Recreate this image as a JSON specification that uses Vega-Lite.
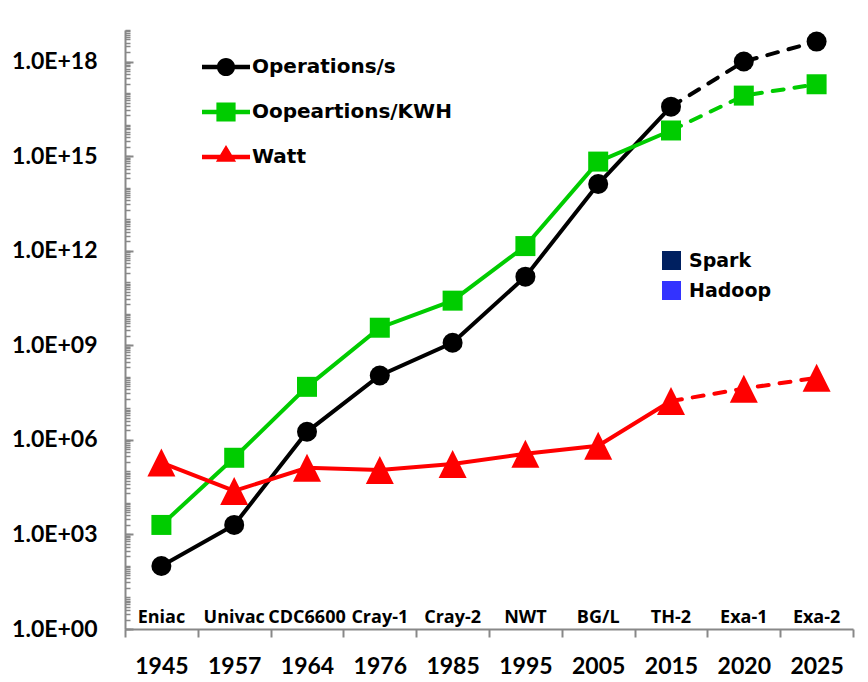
{
  "$schema": "https://vega.github.io/schema/vega-lite/v6.json",
  "width": 728,
  "height": 599,
  "autosize": {"type": "none"},
  "padding": {"left": 125, "top": 30, "right": 15, "bottom": 53},
  "background": "white",
  "config": {"view": {"stroke": null}},
  "datasets": {
    "perf": [
      {"year": 1945, "series": "Operations/s", "value": 1e2},
      {"year": 1957, "series": "Operations/s", "value": 2e3},
      {"year": 1964, "series": "Operations/s", "value": 1.8e6},
      {"year": 1976, "series": "Operations/s", "value": 1.1e8},
      {"year": 1985, "series": "Operations/s", "value": 1.2e9},
      {"year": 1995, "series": "Operations/s", "value": 1.5e11},
      {"year": 2005, "series": "Operations/s", "value": 1.3e14},
      {"year": 2015, "series": "Operations/s", "value": 3.7e16},
      {"year": 2020, "series": "Operations/s", "value": 1e18},
      {"year": 2025, "series": "Operations/s", "value": 4.3e18},
      {"year": 1945, "series": "Oopeartions/KWH", "value": 2e3},
      {"year": 1957, "series": "Oopeartions/KWH", "value": 2.7e5},
      {"year": 1964, "series": "Oopeartions/KWH", "value": 4.8e7},
      {"year": 1976, "series": "Oopeartions/KWH", "value": 3.6e9},
      {"year": 1985, "series": "Oopeartions/KWH", "value": 2.6e10},
      {"year": 1995, "series": "Oopeartions/KWH", "value": 1.4e12},
      {"year": 2005, "series": "Oopeartions/KWH", "value": 6.7e14},
      {"year": 2015, "series": "Oopeartions/KWH", "value": 6.5e15},
      {"year": 2020, "series": "Oopeartions/KWH", "value": 8.3e16},
      {"year": 2025, "series": "Oopeartions/KWH", "value": 1.9e17},
      {"year": 1945, "series": "Watt", "value": 1.9e5},
      {"year": 1957, "series": "Watt", "value": 2.4e4},
      {"year": 1964, "series": "Watt", "value": 1.3e5},
      {"year": 1976, "series": "Watt", "value": 1.1e5},
      {"year": 1985, "series": "Watt", "value": 1.7e5},
      {"year": 1995, "series": "Watt", "value": 3.6e5},
      {"year": 2005, "series": "Watt", "value": 6.5e5},
      {"year": 2015, "series": "Watt", "value": 1.7e7},
      {"year": 2020, "series": "Watt", "value": 4.2e7},
      {"year": 2025, "series": "Watt", "value": 9.3e7}
    ],
    "machines": [
      {"year": 1945, "name": "Eniac"},
      {"year": 1957, "name": "Univac"},
      {"year": 1964, "name": "CDC6600"},
      {"year": 1976, "name": "Cray-1"},
      {"year": 1985, "name": "Cray-2"},
      {"year": 1995, "name": "NWT"},
      {"year": 2005, "name": "BG/L"},
      {"year": 2015, "name": "TH-2"},
      {"year": 2020, "name": "Exa-1"},
      {"year": 2025, "name": "Exa-2"}
    ],
    "tech": [
      {"year": 2005, "tech": "Spark", "value": null},
      {"year": 2005, "tech": "Hadoop", "value": null}
    ]
  },
  "resolve": {"axis": {"y": "independent"}},
  "layer": [
    {
      "data": {"name": "perf"},
      "transform": [{"filter": "datum.year <= 2015"}],
      "mark": {"type": "line", "strokeWidth": 4},
      "encoding": {
        "x": {
          "field": "year", "type": "ordinal",
          "scale": {"type": "band", "paddingInner": 0, "paddingOuter": 0},
          "axis": {
            "title": null, "labelAngle": 0, "tickBand": "extent",
            "tickSize": 8, "tickWidth": 2, "tickColor": "#888888",
            "domainColor": "#888888", "domainWidth": 2,
            "labelFont": "Lato", "labelFontWeight": "bold", "labelFontSize": 23,
            "labelColor": "black", "labelPadding": 18
          }
        },
        "y": {
          "field": "value", "type": "quantitative",
          "scale": {"type": "log", "domain": [1, 1e19], "nice": false},
          "axis": {
            "values": [1, 1e3, 1e6, 1e9, 1e12, 1e15, 1e18],
            "labelExpr": "'1.0E+' + (round(log(datum.value)/LN10) < 10 ? '0' : '') + round(log(datum.value)/LN10)",
            "title": null, "grid": false,
            "tickSize": -8, "tickWidth": 2, "tickColor": "#888888",
            "domainColor": "#888888", "domainWidth": 2,
            "labelFont": "Lato", "labelFontWeight": "bold", "labelFontSize": 23,
            "labelColor": "black", "labelPadding": 36, "labelFlush": false
          }
        },
        "color": {
          "field": "series", "type": "nominal",
          "scale": {"domain": ["Operations/s", "Oopeartions/KWH", "Watt"], "range": ["#000000", "#00CC00", "#FF0000"]}
        }
      }
    },
    {
      "data": {"name": "perf"},
      "transform": [{"filter": "datum.year >= 2015"}],
      "mark": {"type": "line", "strokeWidth": 4, "strokeDash": [11, 11], "strokeCap": "round"},
      "encoding": {
        "x": {"field": "year", "type": "ordinal", "scale": {"type": "band", "paddingInner": 0, "paddingOuter": 0}},
        "y": {
          "field": "value", "type": "quantitative",
          "axis": {
            "orient": "left",
            "values": [1e0,2e0,3e0,4e0,5e0,6e0,7e0,8e0,9e0,1e1,2e1,3e1,4e1,5e1,6e1,7e1,8e1,9e1,1e2,2e2,3e2,4e2,5e2,6e2,7e2,8e2,9e2,1e3,2e3,3e3,4e3,5e3,6e3,7e3,8e3,9e3,1e4,2e4,3e4,4e4,5e4,6e4,7e4,8e4,9e4,1e5,2e5,3e5,4e5,5e5,6e5,7e5,8e5,9e5,1e6,2e6,3e6,4e6,5e6,6e6,7e6,8e6,9e6,1e7,2e7,3e7,4e7,5e7,6e7,7e7,8e7,9e7,1e8,2e8,3e8,4e8,5e8,6e8,7e8,8e8,9e8,1e9,2e9,3e9,4e9,5e9,6e9,7e9,8e9,9e9,1e10,2e10,3e10,4e10,5e10,6e10,7e10,8e10,9e10,1e11,2e11,3e11,4e11,5e11,6e11,7e11,8e11,9e11,1e12,2e12,3e12,4e12,5e12,6e12,7e12,8e12,9e12,1e13,2e13,3e13,4e13,5e13,6e13,7e13,8e13,9e13,1e14,2e14,3e14,4e14,5e14,6e14,7e14,8e14,9e14,1e15,2e15,3e15,4e15,5e15,6e15,7e15,8e15,9e15,1e16,2e16,3e16,4e16,5e16,6e16,7e16,8e16,9e16,1e17,2e17,3e17,4e17,5e17,6e17,7e17,8e17,9e17,1e18,2e18,3e18,4e18,5e18,6e18,7e18,8e18,9e18,1e19],
            "labels": false, "domain": false, "grid": false, "title": null,
            "tickSize": -5, "tickWidth": 1.5, "tickColor": "#888888"
          }
        },
        "color": {"field": "series", "type": "nominal"}
      }
    },
    {
      "data": {"name": "perf"},
      "transform": [{"filter": "datum.series === 'Operations/s'"}],
      "mark": {"type": "point", "filled": true, "opacity": 1, "strokeWidth": 0, "shape": "circle", "size": 400},
      "encoding": {
        "x": {"field": "year", "type": "ordinal", "scale": {"type": "band", "paddingInner": 0, "paddingOuter": 0}},
        "y": {"field": "value", "type": "quantitative", "axis": null},
        "color": {"field": "series", "type": "nominal"}
      }
    },
    {
      "data": {"name": "perf"},
      "transform": [{"filter": "datum.series === 'Oopeartions/KWH'"}],
      "mark": {"type": "point", "filled": true, "opacity": 1, "strokeWidth": 0, "shape": "square", "size": 400},
      "encoding": {
        "x": {"field": "year", "type": "ordinal", "scale": {"type": "band", "paddingInner": 0, "paddingOuter": 0}},
        "y": {"field": "value", "type": "quantitative", "axis": null},
        "color": {"field": "series", "type": "nominal"}
      }
    },
    {
      "data": {"name": "perf"},
      "transform": [{"filter": "datum.series === 'Watt'"}],
      "mark": {"type": "point", "filled": true, "opacity": 1, "strokeWidth": 0, "shape": "M0,-1L1,1H-1Z", "size": 784},
      "encoding": {
        "x": {"field": "year", "type": "ordinal", "scale": {"type": "band", "paddingInner": 0, "paddingOuter": 0}},
        "y": {"field": "value", "type": "quantitative", "axis": null},
        "color": {"field": "series", "type": "nominal"}
      }
    },
    {
      "data": {"name": "perf"},
      "mark": {"type": "point", "filled": true, "opacity": 1, "strokeWidth": 0, "size": 0},
      "encoding": {
        "x": {"field": "year", "type": "ordinal", "scale": {"type": "band", "paddingInner": 0, "paddingOuter": 0}},
        "y": {"field": "value", "type": "quantitative", "axis": null},
        "color": {
          "field": "series", "type": "nominal",
          "legend": {
            "orient": "none", "legendX": 77, "legendY": 13, "title": null,
            "padding": 0, "rowPadding": 11,
            "symbolSize": 2304, "symbolStrokeWidth": 0, "symbolOpacity": 1,
            "labelFont": "DejaVu Sans", "labelFontWeight": "bold", "labelFontSize": 20,
            "labelColor": "black", "labelOffset": 2, "labelLimit": 400
          }
        },
        "shape": {
          "field": "series", "type": "nominal",
          "scale": {
            "domain": ["Operations/s", "Oopeartions/KWH", "Watt"],
            "range": [
              "M-1,-0.09H1V0.09H-1Z M0.38,0A0.38,0.38 0 1,1 -0.38,0A0.38,0.38 0 1,1 0.38,0Z",
              "M-1,-0.09H1V0.09H-1Z M-0.4,-0.4H0.4V0.4H-0.4Z",
              "M-1,-0.09H1V0.09H-1Z M0,-0.5L0.42,0.2H-0.42Z"
            ]
          },
          "legend": {
            "orient": "none", "legendX": 77, "legendY": 13, "title": null,
            "padding": 0, "rowPadding": 11,
            "symbolSize": 2304, "symbolStrokeWidth": 0, "symbolOpacity": 1,
            "labelFont": "DejaVu Sans", "labelFontWeight": "bold", "labelFontSize": 20,
            "labelColor": "black", "labelOffset": 2, "labelLimit": 400
          }
        }
      }
    },
    {
      "data": {"name": "machines"},
      "mark": {"type": "text", "font": "Open Sans", "fontWeight": "bold", "fontSize": 18, "baseline": "alphabetic", "align": "center", "dy": -6, "color": "black"},
      "encoding": {
        "x": {"field": "year", "type": "ordinal", "scale": {"type": "band", "paddingInner": 0, "paddingOuter": 0}},
        "y": {"datum": 1, "type": "quantitative", "axis": null},
        "text": {"field": "name", "type": "nominal"}
      }
    },
    {
      "data": {"name": "tech"},
      "mark": {"type": "square", "opacity": 1},
      "encoding": {
        "x": {"field": "year", "type": "ordinal", "scale": {"type": "band", "paddingInner": 0, "paddingOuter": 0}},
        "y": {"field": "value", "type": "quantitative", "axis": null},
        "fill": {
          "field": "tech", "type": "nominal",
          "scale": {"domain": ["Spark", "Hadoop"], "range": ["#002060", "#3333FF"]},
          "legend": {
            "orient": "none", "legendX": 537, "legendY": 221, "title": null,
            "padding": 0, "rowPadding": 10,
            "symbolType": "square", "symbolSize": 361, "symbolStrokeWidth": 0, "symbolOpacity": 1,
            "labelFont": "DejaVu Sans", "labelFontWeight": "bold", "labelFontSize": 19,
            "labelColor": "black", "labelOffset": 8
          }
        }
      }
    }
  ]
}
